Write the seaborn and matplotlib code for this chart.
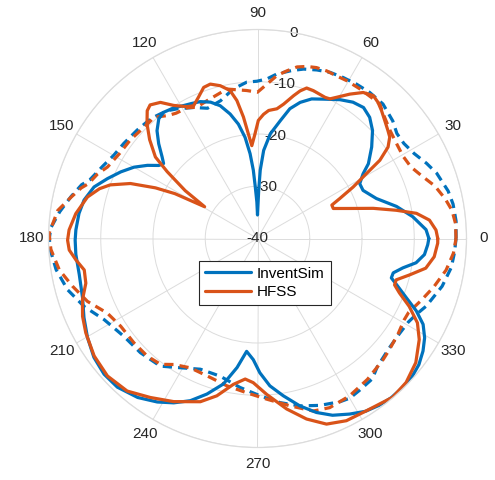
import numpy as np
import matplotlib
matplotlib.use("Agg")
import matplotlib.pyplot as plt
import seaborn as sns

# ---------------- data (angle in degrees, gain in dB) ----------------
inv_solid_ang = [0, 3, 8, 13, 18.6, 24.5, 28.2, 31.5, 34, 38.7, 43.2, 47.2, 51, 55, 59.3, 64.7, 68.8,
                 72.6, 76, 79, 83, 86, 87.7, 88.6, 89.5, 90, 91, 92.5, 93.5, 95, 97, 99.5, 102.4, 105.7,
                 109, 112.7, 116, 119, 122.7, 126.6, 129.5, 133, 136.2, 139.5, 141.4, 143.5, 146.4, 150,
                 154, 158.2, 162.5, 167.5, 172, 177.3, 180.5, 185, 191.4, 198.7, 204.5, 210.2, 216, 221.5,
                 226.7, 233, 238.5, 243, 247.5, 252, 256.8, 261, 264.5, 268, 271, 274.8, 279.3, 284.2,
                 288.7, 293, 297.7, 302, 306, 310, 314, 318, 322, 325.8, 329.3, 332.6, 335.5, 338.3,
                 341.7, 343.6, 345.8, 348.6, 351.3, 354.5, 357.9, 360]
inv_solid_db = [-7.2, -7.7, -10.0, -12.7, -16.0, -17.8, -17.8, -16.3, -14.4, -12.0, -9.8, -8.4, -7.75,
                -8.15, -9.1, -10.5, -11.35, -12.7, -14.4, -17.0, -19.8, -23.1, -26.9, -30.8, -34.5, -35.5,
                -33.0, -30.0, -26.9, -23.7, -20.5, -17.8, -15.6, -13.6, -12.4, -11.6, -11.25, -10.9,
                -10.3, -9.9, -10.3, -11.8, -13.8, -16.0, -17.0, -16.5, -14.7, -12.7, -10.9, -9.1, -7.2,
                -6.0, -5.5, -5.2, -5.1, -5.1, -5.2, -4.65, -3.5, -2.35, -1.3, -0.8, -0.9, -1.9, -3.3,
                -4.7, -6.4, -8.7, -11.4, -15.0, -18.3, -16.8, -14.3, -11.7, -9.5, -6.95, -4.85, -3.25,
                -2.05, -1.0, -0.5, -0.2, -0.2, -0.3, -0.8, -1.7, -2.8, -4.3, -6.6, -9.35, -12.0, -13.3,
                -13.2, -11.6, -9.3, -7.9, -7.4, -7.2]

hfss_solid_ang = [0, 2.7, 6.1, 9, 11.5, 14.6, 18, 21.6, 24.2, 25.9, 28.3, 30.8, 32.6, 35, 37.5, 39.6,
                  42.8, 45.9, 48.5, 51, 54.1, 57.4, 60.7, 62.6, 64.4, 69.3, 71.9, 73.9, 75.8, 79, 81.5,
                  85, 87.2, 89.6, 91.4, 93.5, 95, 96.6, 98.5, 100.5, 103.7, 107, 109.6, 112.7, 115.7,
                  118.1, 122.2, 125.5, 128.8, 130.8, 133.9, 137.5, 141.4, 143.5, 146.5, 149, 151.5,
                  153.6, 156.6, 160, 162.5, 166.3, 172.2, 177.4, 180.5, 183.5, 186.7, 190.3, 194.6,
                  199.3, 204, 208.8, 215.7, 222.5, 229.5, 236, 242.8, 250.7, 255.5, 260.6, 265, 268.3,
                  273.4, 279.7, 285.2, 290.4, 296, 302.2, 310.4, 315.9, 321.9, 328, 332.2, 335.9, 339,
                  341.3, 343.4, 346.5, 350, 354.1, 358.5, 360]
hfss_solid_db = [-5.5, -5.8, -6.9, -9.2, -12.9, -17.1, -21.4, -24.4, -24.4, -22.5, -19.2, -15.7, -12.2,
                 -9.5, -8.1, -7.6, -6.8, -5.9, -5.2, -4.8, -5.5, -7.2, -9.0, -9.9, -10.05, -9.75, -9.7,
                 -10.6, -11.8, -13.8, -14.9, -15.4, -16.2, -17.4, -20.0, -22.2, -19.9, -16.6, -13.3,
                 -11.2, -9.9, -9.1, -9.3, -10.7, -11.8, -11.4, -9.9, -8.0, -7.2, -7.7, -9.5, -12.0,
                 -15.0, -18.5, -23.4, -28.2, -22.0, -18.2, -13.5, -10.0, -8.3, -6.5, -4.9, -3.9, -3.65,
                 -3.9, -5.0, -6.3, -6.05, -4.5, -3.35, -2.5, -1.5, -1.05, -1.6, -3.3, -4.9, -6.9, -8.9,
                 -11.7, -13.0, -12.4, -10.1, -6.9, -4.2, -2.1, -1.2, -1.0, -0.1, -0.4, -1.5, -3.5, -5.4,
                 -8.2, -10.9, -12.3, -12.3, -10.1, -7.3, -6.0, -5.5, -5.5]

inv_dash_ang = [0, 5, 10, 14, 20, 24, 28.5, 33, 37, 41, 47, 52.5, 57.3, 62, 66.4, 70.6, 74.8, 78.5,
                83.3, 86.6, 90.2, 93.9, 99.2, 105, 111, 116, 121.8, 125.5, 131.5, 138, 144.6, 150, 155,
                160.7, 163, 167.4, 172.3, 177, 180, 183.2, 188.8, 195.1, 201.4, 207.9, 216.2, 224.3,
                232.7, 239.2, 246.4, 254.8, 263.3, 270.9, 277.8, 284.2, 290.5, 296.8, 300, 304, 309.3,
                313, 320, 326, 331, 334.5, 338.2, 345.5, 351.5, 356, 360]
inv_dash_db = [-2.0, -1.85, -2.0, -2.4, -3.5, -4.6, -5.9, -6.6, -6.6, -5.7, -4.8, -4.75, -4.9, -5.1,
               -5.3, -5.8, -6.4, -7.2, -8.3, -9.4, -9.9, -10.0, -11.0, -12.7, -13.3, -12.1, -10.8, -10.0,
               -9.3, -9.0, -8.6, -8.2, -7.3, -6.0, -4.8, -3.4, -1.8, -0.4, -0.15, -0.3, -1.0, -2.35,
               -4.35, -6.8, -8.3, -8.7, -9.3, -11.2, -12.7, -12.7, -11.3, -9.9, -8.3, -6.95, -5.9,
               -5.0, -4.7, -5.0, -5.3, -6.4, -7.2, -7.3, -7.0, -6.3, -5.2, -3.5, -2.5, -2.2, -2.0]

hfss_dash_ang = [0, 4.4, 8.3, 12, 16.5, 21, 25, 29.5, 34, 39, 43.6, 47.8, 51, 55.6, 60.5, 64, 67.6, 71,
                 74, 77, 80, 83.2, 86.5, 90, 94.2, 101.6, 110, 114.8, 118.2, 123, 126, 130.5, 134,
                 142.3, 148.2, 154.5, 158, 162, 164, 167.4, 172, 178.6, 183, 189, 194.5, 200.3, 206.4,
                 212.7, 220.2, 226.9, 232.4, 236.4, 242.5, 249.8, 258.3, 266, 273.3, 280.9, 287.9,
                 293.1, 300.3, 308, 316, 320, 326, 331, 334, 339.3, 344.7, 350.5, 355.7, 360]
hfss_dash_db = [-2.0, -2.0, -2.4, -3.3, -4.6, -6.4, -7.6, -8.0, -7.8, -7.3, -6.4, -5.2, -5.3, -5.3,
                -5.3, -5.4, -5.3, -5.4, -5.75, -6.3, -7.4, -8.6, -10.4, -12.0, -11.6, -10.8, -11.9,
                -12.3, -11.6, -11.4, -10.9, -9.5, -9.6, -9.2, -9.0, -8.2, -7.0, -6.0, -4.9, -3.5, -1.4,
                -0.1, -0.4, -1.6, -3.45, -5.3, -7.9, -8.9, -9.05, -9.15, -9.6, -11.05, -12.1, -12.0,
                -11.2, -10.4, -9.2, -7.4, -5.3, -4.8, -5.1, -5.8, -6.6, -7.0, -7.5, -7.9, -7.8, -6.5,
                -5.0, -3.4, -2.4, -2.0]

theta_ticks = [0, 30, 60, 90, 120, 150, 180, 210, 240, 270, 300, 330]
theta_labels = ["0", "30", "60", "90", "120", "150", "180", "210", "240", "270", "300", "330"]
r_ticks = [-40, -30, -20, -10, 0]
r_labels = ["-40", "-30", "-20", "-10", "0"]
legend_labels = ["InventSim", "HFSS"]

# ---------------- style ----------------
sns.set_theme(style="white")
plt.rcParams["font.family"] = ["Liberation Sans", "DejaVu Sans"]

BLUE = "#0072BD"
ORANGE = "#D95319"
GRID = "#dcdcdc"
TXT = "#262626"
LW = 2.3
DASH = (0, (2.9, 1.9))

fig = plt.figure(figsize=(4.95, 4.8), dpi=100)
fig.patch.set_facecolor("white")
cx, cy, R = 257.5, 238.5, 209.0
ax = fig.add_axes([(cx - R) / 495, (480 - cy - R) / 480, 2 * R / 495, 2 * R / 480], projection="polar")
ax.set_facecolor("white")

def draw(ang, db, color, ls, label):
    sns.lineplot(x=np.deg2rad(ang), y=db, ax=ax, color=color, linewidth=LW, sort=False,
                 estimator=None, label=label, legend=False)
    line = ax.lines[-1]
    line.set_linestyle(ls)
    line.set_solid_joinstyle("round")
    line.set_dash_capstyle("butt")
    return line

draw(inv_dash_ang, inv_dash_db, BLUE, DASH, "_nolegend_")
draw(hfss_dash_ang, hfss_dash_db, ORANGE, DASH, "_nolegend_")
l1 = draw(inv_solid_ang, inv_solid_db, BLUE, "-", legend_labels[0])
l2 = draw(hfss_solid_ang, hfss_solid_db, ORANGE, "-", legend_labels[1])

ax.set_theta_zero_location("E")
ax.set_theta_direction(1)
ax.set_ylim(r_ticks[0], r_ticks[-1])
ax.set_yticks(r_ticks)
ax.set_yticklabels([])
ax.set_xticks(np.deg2rad(theta_ticks))
ax.set_xticklabels(theta_labels)
ax.tick_params(axis="x", pad=5, length=0, labelsize=11, colors=TXT)
ax.tick_params(axis="y", length=0)
ax.grid(True, color=GRID, linewidth=0.7)
ax.spines["polar"].set_color(GRID)
ax.spines["polar"].set_linewidth(0.9)
ax.set_xlabel("")
ax.set_ylabel("")

for v, s in zip(r_ticks, r_labels):
    ax.text(np.deg2rad(80), v, s, ha="center", va="center", fontsize=11, color=TXT, zorder=1)

leg = ax.legend(handles=[l1, l2], labels=legend_labels, loc="center",
                bbox_to_anchor=(265 / 495, 1 - 283 / 480), bbox_transform=fig.transFigure,
                fontsize=11, frameon=True, fancybox=False, framealpha=1, edgecolor=TXT,
                handlelength=3.0, handletextpad=0.4, labelspacing=0.3, borderpad=0.4,
                borderaxespad=0)
leg.get_frame().set_linewidth(0.8)
for t in leg.get_texts():
    t.set_color("black")

fig.savefig("out.png", dpi=100, facecolor="white")
